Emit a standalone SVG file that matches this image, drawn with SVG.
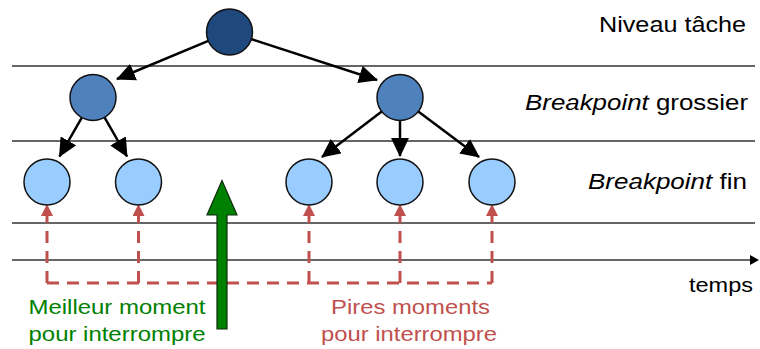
<svg xmlns="http://www.w3.org/2000/svg" width="760" height="349" viewBox="0 0 760 349">
  <defs>
    <marker id="ah" markerUnits="userSpaceOnUse" markerWidth="19" markerHeight="18" viewBox="0 0 19 18" refX="18" refY="9" orient="auto">
      <path d="M0,0 L19,9 L0,18 z" fill="#000"/>
    </marker>
    <marker id="axh" markerUnits="userSpaceOnUse" markerWidth="9" markerHeight="10" viewBox="0 0 9 10" refX="1" refY="5" orient="auto">
      <path d="M0,0 L9,5 L0,10 z" fill="#000"/>
    </marker>
    <marker id="rh" markerUnits="userSpaceOnUse" markerWidth="12" markerHeight="12" viewBox="0 0 12 12" refX="11" refY="6" orient="auto">
      <path d="M0,0 L12,6 L0,12 z" fill="#c0504d"/>
    </marker>
  </defs>
  <style>
    .lvl { stroke: #333; stroke-width: 1.6; fill: none; }
    .edge { stroke: #000; stroke-width: 2.5; fill: none; marker-end: url(#ah); }
    .red { stroke: #c0504d; stroke-width: 3; stroke-dasharray: 12 8; fill: none; }
    .redv { stroke: #c0504d; stroke-width: 3; stroke-dasharray: 12 8; fill: none; marker-end: url(#rh); }
    .node { stroke: #111; stroke-width: 1.5; }
    .n0 { fill: #1f497d; }
    .n1 { fill: #4f81bd; }
    .n2 { fill: #99ccff; }
    text { font-family: "Liberation Sans", Arial, sans-serif; }
    .lab { font-size: 22px; fill: #000; }
    .bot { font-size: 21px; }
  </style>

  <g id="levels">
    <line class="lvl" x1="12" y1="66" x2="755" y2="66"/>
    <line class="lvl" x1="12" y1="141" x2="755" y2="141"/>
    <line class="lvl" x1="12" y1="223" x2="755" y2="223"/>
    <line class="lvl" x1="12" y1="260" x2="751" y2="260" marker-end="url(#axh)"/>
  </g>

  <g id="connectors">
    <line class="edge" x1="208.3" y1="40.9" x2="117" y2="79"/>
    <line class="edge" x1="251.4" y1="39.1" x2="377" y2="80"/>
    <line class="edge" x1="81.8" y1="117.6" x2="59.5" y2="156.5"/>
    <line class="edge" x1="104.5" y1="117.4" x2="127" y2="156.5"/>
    <line class="edge" x1="381.7" y1="111.5" x2="322" y2="157"/>
    <line class="edge" x1="400" y1="120.5" x2="400" y2="156"/>
    <line class="edge" x1="418.3" y1="111.5" x2="479" y2="157"/>
  </g>

  <g id="worst-moments">
    <path class="red" d="M47,283 H492"/>
    <line class="redv" x1="47" y1="283" x2="47" y2="205"/>
    <line class="redv" x1="138.5" y1="283" x2="138.5" y2="205"/>
    <line class="redv" x1="309" y1="283" x2="309" y2="205"/>
    <line class="redv" x1="400" y1="283" x2="400" y2="205"/>
    <line class="redv" x1="492" y1="283" x2="492" y2="205"/>
  </g>

  <g id="node-task"><circle class="node n0" cx="229.5" cy="32" r="23"/></g>
  <g id="node-coarse-1"><circle class="node n1" cx="93" cy="97.5" r="23"/></g>
  <g id="node-coarse-2"><circle class="node n1" cx="400" cy="97.5" r="23"/></g>
  <g id="node-fine-1"><circle class="node n2" cx="47" cy="182" r="23"/></g>
  <g id="node-fine-2"><circle class="node n2" cx="138.5" cy="182" r="23"/></g>
  <g id="node-fine-3"><circle class="node n2" cx="309" cy="182" r="23"/></g>
  <g id="node-fine-4"><circle class="node n2" cx="400" cy="182" r="23"/></g>
  <g id="node-fine-5"><circle class="node n2" cx="492" cy="182" r="23"/></g>

  <g id="best-moment">
    <polygon points="217,329 227,329 227,215 237,215 222,180.5 207,215 217,215" fill="#008000" stroke="#0d2b0d" stroke-width="1.2"/>
  </g>

  <g id="labels">
    <text class="lab" x="599" y="31.5" textLength="147" lengthAdjust="spacingAndGlyphs">Niveau tâche</text>
    <text class="lab" x="525" y="110" textLength="223" lengthAdjust="spacingAndGlyphs"><tspan font-style="italic">Breakpoint</tspan> grossier</text>
    <text class="lab" x="588" y="189" textLength="159" lengthAdjust="spacingAndGlyphs"><tspan font-style="italic">Breakpoint</tspan> fin</text>
    <text class="bot" x="689" y="291.5" textLength="64" lengthAdjust="spacingAndGlyphs" fill="#000">temps</text>
    <text class="bot" x="28.5" y="313.5" textLength="177" lengthAdjust="spacingAndGlyphs" fill="#008000">Meilleur moment</text>
    <text class="bot" x="28.5" y="341" textLength="177" lengthAdjust="spacingAndGlyphs" fill="#008000">pour interrompre</text>
    <text class="bot" x="331" y="313.5" textLength="159" lengthAdjust="spacingAndGlyphs" fill="#c0504d">Pires moments</text>
    <text class="bot" x="321" y="341" textLength="176" lengthAdjust="spacingAndGlyphs" fill="#c0504d">pour interrompre</text>
  </g>
</svg>
